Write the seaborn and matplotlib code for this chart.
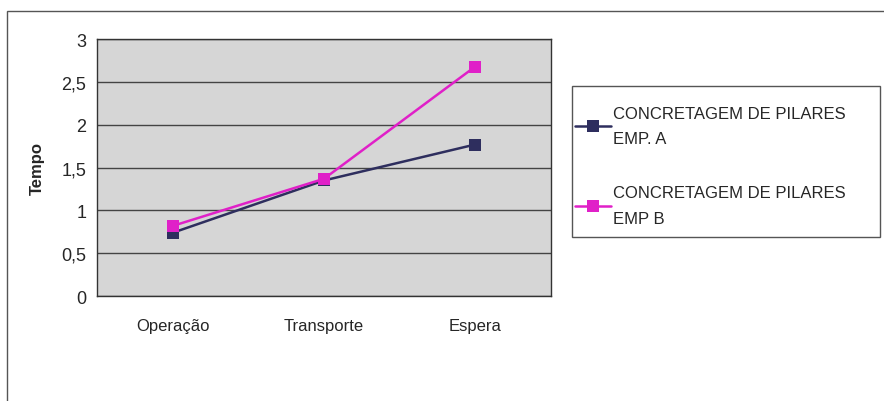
import pandas as pd
import seaborn as sns
import matplotlib.pyplot as plt
from matplotlib.patches import Rectangle
from matplotlib.ticker import FixedLocator

# Data
categorias = ['Operação', 'Transporte', 'Espera']
emp_a = [0.74, 1.35, 1.77]
emp_b = [0.82, 1.37, 2.68]
serie_a = 'CONCRETAGEM DE PILARES\nEMP. A'
serie_b = 'CONCRETAGEM DE PILARES\nEMP B'

df = pd.DataFrame({
    'etapa': categorias * 2,
    'tempo': emp_a + emp_b,
    'serie': [serie_a] * 3 + [serie_b] * 3,
})

sns.set_style('white')
plt.rcParams['font.family'] = ['Liberation Sans', 'DejaVu Sans']

fig = plt.figure(figsize=(8.84, 4.02), dpi=100)
ax = fig.add_axes([0.110, 0.261, 0.513, 0.639])

# Outer chart frame
fig.patches.append(Rectangle((0.008, -0.05), 1.1, 1.02, transform=fig.transFigure,
                             fill=False, edgecolor='#555555', linewidth=1.0))
# Legend box
fig.patches.append(Rectangle((0.647, 0.408), 0.348, 0.376, transform=fig.transFigure,
                             fill=False, edgecolor='#555555', linewidth=1.0))

ax.set_facecolor('#d6d6d6')
g = sns.lineplot(data=df, x='etapa', y='tempo', hue='serie', marker='s',
                 markersize=8, markeredgewidth=0, linewidth=1.8,
                 palette=['#2e2e5e', '#e020c8'], ax=ax)

ax.set_xlim(-0.5, 2.5)
ax.set_ylim(0, 3)
ax.set_yticks([0, 0.5, 1, 1.5, 2, 2.5, 3])
ax.set_yticklabels(['0', '0,5', '1', '1,5', '2', '2,5', '3'], fontsize=13)
ax.set_xticks(range(3))
ax.set_xticklabels(categorias, fontsize=12)
ax.xaxis.set_minor_locator(FixedLocator([-0.5, 0.5, 1.5, 2.5]))
ax.tick_params(axis='x', which='major', length=0, pad=16)
ax.tick_params(axis='x', which='minor', length=5, direction='out', color='#333333')
ax.tick_params(axis='y', length=5, direction='out', color='#333333', pad=3)
ax.grid(axis='y', color='#444444', linewidth=1.0)
ax.set_axisbelow(True)
for s in ax.spines.values():
    s.set_color('#333333')
    s.set_linewidth(1.0)

g.set(xlabel='')
ax.set_ylabel('Tempo', fontsize=12, fontweight='bold', labelpad=12)

leg = ax.legend(loc='upper left', bbox_to_anchor=(0.650, 0.735),
                bbox_transform=fig.transFigure, fontsize=12,
                frameon=False, labelspacing=2.35, handlelength=2.2,
                handletextpad=0.1, borderaxespad=0, borderpad=0)
for t in leg.get_texts():
    t.set_linespacing(1.9)

plt.savefig('out.png', dpi=100)
